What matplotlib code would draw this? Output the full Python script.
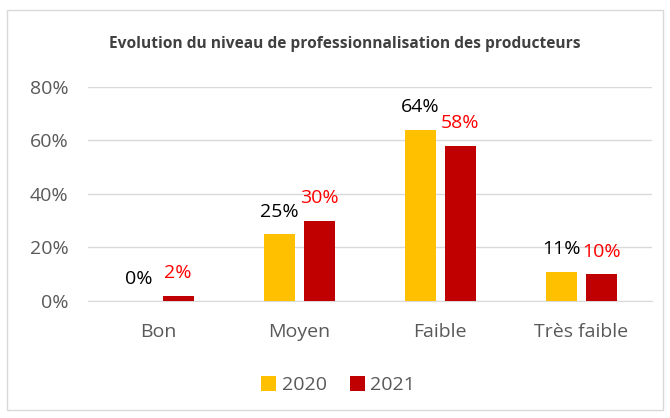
import numpy as np
import matplotlib.pyplot as plt
from matplotlib.patches import Rectangle

categories = ["Bon", "Moyen", "Faible", "Très faible"]
values_2020 = [0.00, 0.25, 0.64, 0.11]
values_2021 = [0.02, 0.30, 0.58, 0.10]
labels_2020 = ["0%", "25%", "64%", "11%"]
labels_2021 = ["2%", "30%", "58%", "10%"]

plt.rcParams['font.family'] = ['Open Sans', 'DejaVu Sans']

fig = plt.figure(figsize=(6.7, 4.18), dpi=100)
ax = fig.add_axes([0.131, 0.28, 0.842, 0.512])

# chart border
fig.patches.append(Rectangle((0.01, 0.02), 0.98, 0.955, transform=fig.transFigure,
                             fill=False, edgecolor='#d9d9d9', linewidth=1))

x = np.arange(len(categories))
w = 0.22
off = 0.14
b1 = ax.bar(x - off, values_2020, w, color='#FFC000', label='2020', zorder=3)
b2 = ax.bar(x + off, values_2021, w, color='#C00000', label='2021', zorder=3)

for xi, v, t in zip(x, values_2020, labels_2020):
    ax.text(xi - off, v + 0.05, t, ha='center', va='bottom', fontsize=14, color='black')
for xi, v, t in zip(x, values_2021, labels_2021):
    ax.text(xi + off, v + 0.05, t, ha='center', va='bottom', fontsize=14, color='#FF0000')

ax.set_xlim(-0.5, 3.5)
ax.set_ylim(0, 0.8)
ax.set_yticks([0, 0.2, 0.4, 0.6, 0.8])
ax.set_yticklabels(["0%", "20%", "40%", "60%", "80%"])
ax.set_xticks(x)
ax.set_xticklabels(categories)
ax.tick_params(axis='both', length=0, labelsize=14, labelcolor='#595959')
ax.tick_params(axis='x', pad=16)
ax.tick_params(axis='y', pad=14)
ax.grid(axis='y', color='#d9d9d9', linewidth=1, zorder=0)
for s in ['top', 'right', 'left']:
    ax.spines[s].set_visible(False)
ax.spines['bottom'].set_color('#d9d9d9')

fig.text(0.515, 0.895, "Evolution du niveau de professionnalisation des producteurs",
         ha='center', va='center', fontsize=11.2, fontweight='bold', color='#404040')

fig.legend(handles=[b1, b2], loc='center', bbox_to_anchor=(0.505, 0.078), ncol=2,
           frameon=False, fontsize=14, labelcolor='#595959', handlelength=0.75,
           handleheight=0.75, handletextpad=0.3, columnspacing=1.2)

plt.savefig('out.png', dpi=100)
